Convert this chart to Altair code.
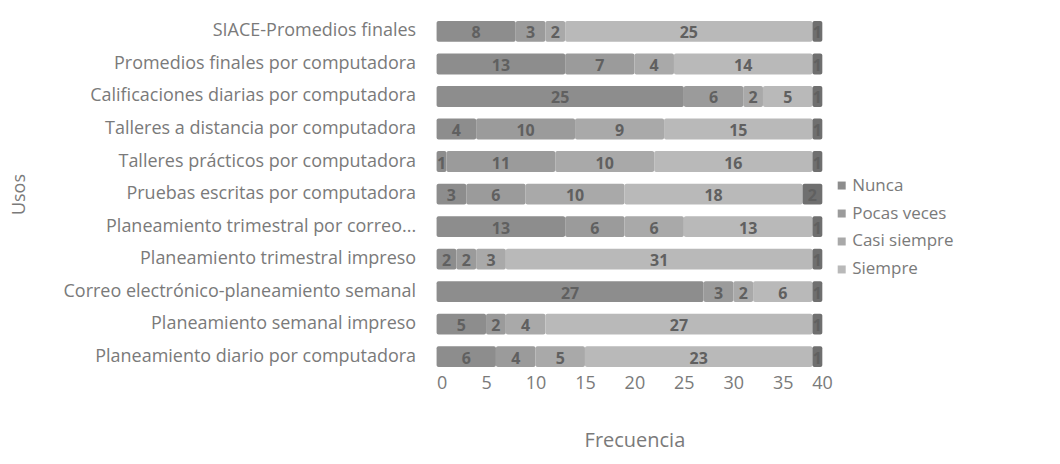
import altair as alt
import pandas as pd

usos = [
    "SIACE-Promedios finales",
    "Promedios finales por computadora",
    "Calificaciones diarias por computadora",
    "Talleres a distancia por computadora",
    "Talleres prácticos por computadora",
    "Pruebas escritas por computadora",
    "Planeamiento trimestral por correo...",
    "Planeamiento trimestral impreso",
    "Correo electrónico-planeamiento semanal",
    "Planeamiento semanal impreso",
    "Planeamiento diario por computadora",
]
series = ["Nunca", "Pocas veces", "Casi siempre", "Siempre", "No responde"]
nunca = [8, 13, 25, 4, 1, 3, 13, 2, 27, 5, 6]
pocas = [3, 7, 6, 10, 11, 6, 6, 2, 3, 2, 4]
casi = [2, 4, 2, 9, 10, 10, 6, 3, 2, 4, 5]
siempre = [25, 14, 5, 15, 16, 18, 13, 31, 6, 27, 23]
no_resp = [1, 1, 1, 1, 1, 2, 1, 1, 1, 1, 1]
colors = ["#8d8d8d", "#9b9b9b", "#a9a9a9", "#b9b9b9", "#6f6f6f"]

rows = []
for i, u in enumerate(usos):
    for k, (s, vals) in enumerate(zip(series, [nunca, pocas, casi, siempre, no_resp])):
        rows.append({"uso": u, "serie": s, "orden": k, "valor": vals[i]})
df = pd.DataFrame(rows)

FONT = "Open Sans"
GREY = "#7a7a7a"

base = alt.Chart(df).transform_stack(
    stack="valor", groupby=["uso"], as_=["x0", "x1"], sort=[alt.SortField("orden", order="ascending")]
).transform_calculate(mid="(datum.x0 + datum.x1) / 2")

ycfg = alt.Y(
    "uso:N",
    sort=usos,
    title="Usos",
    axis=alt.Axis(
        domain=False, ticks=False, labelFont=FONT, labelFontSize=18, labelColor=GREY,
        labelPadding=21, labelLimit=600, titleFont=FONT, titleFontSize=18, titleColor=GREY,
        titleFontWeight="normal", titleX=-417, titleY=179, titleAngle=270,
        titleAlign="center", titleBaseline="middle",
    ),
    scale=alt.Scale(paddingInner=0.36, paddingOuter=0.18),
)

bars = base.mark_bar(cornerRadius=2).encode(
    y=ycfg,
    x=alt.X(
        "x0:Q",
        title="Frecuencia",
        scale=alt.Scale(domain=[0, 40], nice=False),
        axis=alt.Axis(
            values=[0, 5, 10, 15, 20, 25, 30, 35, 40], grid=False, domain=False, ticks=False,
            labelFont=FONT, labelFontSize=18, labelColor=GREY, labelPadding=2,
            titleFont=FONT, titleFontSize=20, titleColor=GREY, titleFontWeight="normal",
            titlePadding=38,
        ),
    ),
    x2="x1:Q",
    color=alt.Color(
        "serie:N",
        scale=alt.Scale(domain=series, range=colors),
        legend=alt.Legend(
            title=None, values=series[:4], orient="none", legendX=397, legendY=162,
            symbolType="square", symbolSize=64, labelFont=FONT, labelFontSize=17,
            labelColor=GREY, rowPadding=10, symbolStrokeWidth=0, labelOffset=2,
        ),
    ),
    order=alt.Order("orden:Q"),
)

labels = base.mark_text(
    font=FONT, fontSize=16, fontWeight="bold", color="#606060", dy=2
).encode(
    y=alt.Y("uso:N", sort=usos),
    x=alt.X("mid:Q"),
    text=alt.Text("valor:Q"),
)

chart = alt.layer(bars, labels).properties(
    width=396, height=358,
    autosize=alt.AutoSizeParams(type="none"),
    padding={"left": 429, "top": 7, "right": 220, "bottom": 83},
).configure_view(stroke=None)

chart.save("out.html", embed_options={"renderer": "svg", "actions": False})
